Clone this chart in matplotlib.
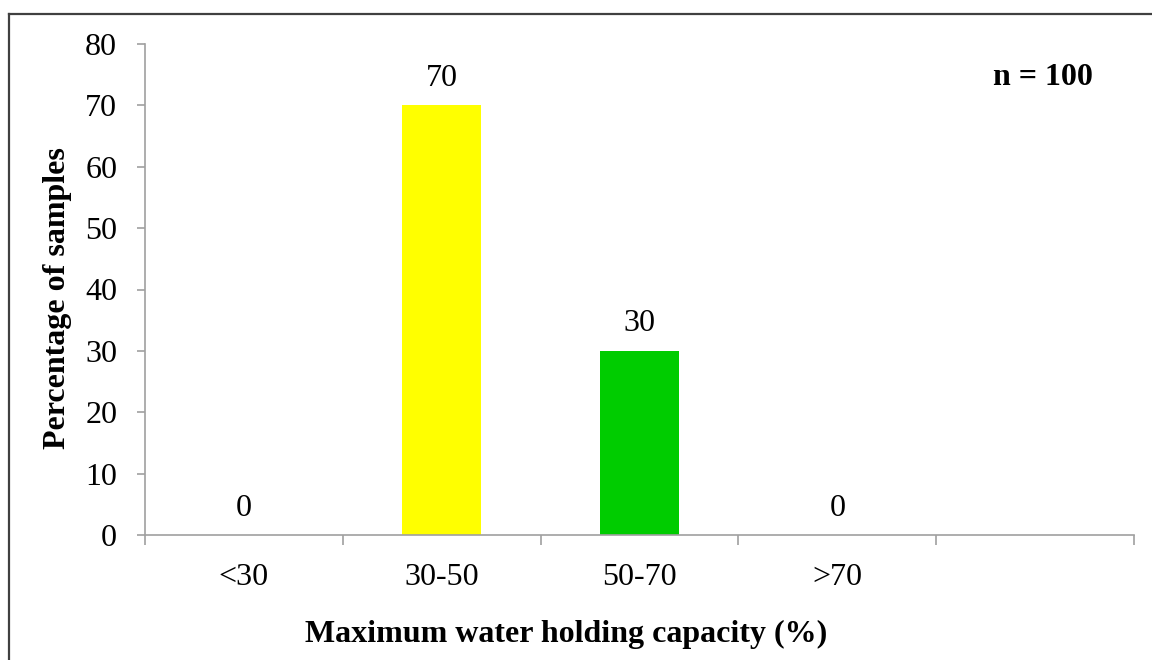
import numpy as np
import matplotlib.pyplot as plt
from matplotlib.lines import Line2D

# data
categories = ['<30', '30-50', '50-70', '>70']
percent = [0, 70, 30, 0]
bar_colors = ['#FFFF00', '#FFFF00', '#00CC00', '#00CC00']

plt.rcParams['font.family'] = ['Liberation Serif', 'DejaVu Serif']

fig = plt.figure(figsize=(11.52, 6.6), dpi=100)
ax = fig.add_axes([145 / 1152, 1 - 535 / 660, (1134 - 145) / 1152, (535 - 44) / 660])

# outer frame (only top and left edges visible in the picture)
fx, fy = 8.5 / 1152, 1 - 13.5 / 660
fig.add_artist(Line2D([fx, 1], [fy, fy], transform=fig.transFigure, color='#404040', lw=1.6))
fig.add_artist(Line2D([fx, fx], [0, fy], transform=fig.transFigure, color='#404040', lw=1.6))

index = np.arange(len(categories))
ax.bar(index, percent, 0.4, color=bar_colors)

for i, v in zip(index, percent):
    ax.annotate(str(v), (i, v), xytext=(0, 9), textcoords='offset points',
                ha='center', va='bottom', fontsize=23)

ax.set_xlim(-0.5, 4.5)
ax.set_ylim(0, 80)
ax.set_yticks(np.arange(0, 81, 10))

# ticks at category boundaries, labels centred under categories
ax.set_xticks(np.arange(-0.5, 4.6, 1))
ax.set_xticklabels([])
ax.set_xticks(index, minor=True)
ax.set_xticklabels(categories, minor=True)
ax.tick_params(axis='x', which='major', length=7.5, width=1.2, color='#a0a0a0', direction='out')
ax.tick_params(axis='x', which='minor', length=0, pad=20, labelsize=23)
ax.tick_params(axis='y', length=6, width=1.2, color='#a0a0a0', direction='out', pad=14, labelsize=23)

for s in ['top', 'right']:
    ax.spines[s].set_visible(False)
for s in ['left', 'bottom']:
    ax.spines[s].set_color('#a0a0a0')
    ax.spines[s].set_linewidth(1.2)

ax.set_xlabel('Maximum water holding capacity (%)', fontsize=23, fontweight='bold')
ax.set_ylabel('Percentage of samples', fontsize=23, fontweight='bold')
ax.xaxis.set_label_coords(0.426, -0.173)
ax.yaxis.set_label_coords(-0.074, 0.482)

ax.text(0.9585, 0.931, 'n = 100', transform=ax.transAxes, ha='right', va='center',
        fontsize=23, fontweight='bold')

fig.savefig('out.png', dpi=100)
